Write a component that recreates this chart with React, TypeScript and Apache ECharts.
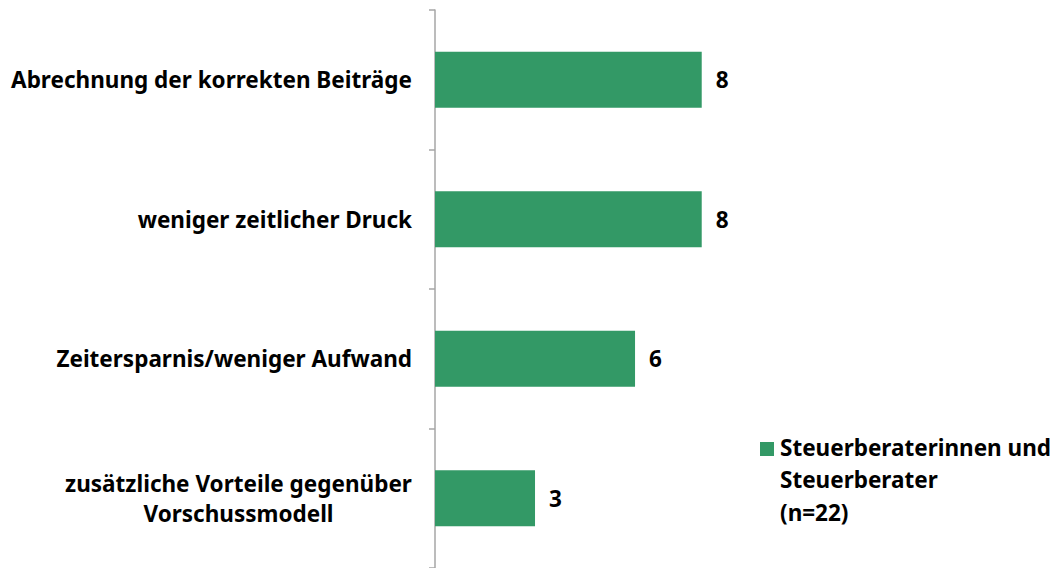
import React, { useEffect, useRef } from "react";
import * as echarts from "echarts";

const categories = [
  "Abrechnung der korrekten Beiträge",
  "weniger zeitlicher Druck",
  "Zeitersparnis/weniger Aufwand",
  "zusätzliche Vorteile gegenüber\nVorschussmodell",
];
const values = [8, 8, 6, 3];
const seriesName = "Steuerberaterinnen und\nSteuerberater\n(n=22)";

const FONT = "'Noto Sans', sans-serif";
const FONT_SIZE = 22.5;
const GREEN = "#339966";

function measure(text: string): number {
  const c = document.createElement("canvas");
  const ctx = c.getContext("2d");
  if (!ctx) return text.length * 12;
  ctx.font = `bold ${FONT_SIZE}px ${FONT}`;
  return ctx.measureText(text).width;
}

export default function App() {
  const ref = useRef<HTMLDivElement>(null);
  useEffect(() => {
    if (!ref.current) return;
    const chart = echarts.init(ref.current, null, { renderer: "svg" });
    const bandH = 140.67;
    chart.setOption({
      animation: false,
      grid: { left: 435, top: 10, width: 33.34 * 10, height: bandH * 4 },
      xAxis: {
        type: "value",
        min: 0,
        max: 10,
        show: false,
      },
      yAxis: {
        type: "category",
        data: categories,
        inverse: true,
        axisLine: { show: true, lineStyle: { color: "#a6a6a6", width: 1.5 } },
        axisTick: { show: true, length: 6, lineStyle: { color: "#a6a6a6", width: 1.5 } },
        splitLine: { show: false },
        axisLabel: {
          margin: 23,
          color: "#000",
          fontFamily: FONT,
          fontWeight: "bold",
          fontSize: FONT_SIZE,
          lineHeight: 30,
          align: "right",
          formatter: (v: string) =>
            v.includes("\n")
              ? v
                  .split("\n")
                  .map((l) => `{c|${l}}`)
                  .join("\n")
              : v,
          rich: {
            c: {
              width: Math.ceil(measure("zusätzliche Vorteile gegenüber")),
              align: "center",
              color: "#000",
              fontFamily: FONT,
              fontWeight: "bold",
              fontSize: FONT_SIZE,
              lineHeight: 30,
            },
          },
        },
      },
      series: [
        {
          name: seriesName,
          type: "bar",
          data: values,
          barWidth: 56,
          itemStyle: { color: GREEN },
          label: {
            show: true,
            position: "right",
            distance: 14,
            color: "#000",
            fontFamily: FONT,
            fontWeight: "bold",
            fontSize: FONT_SIZE,
          },
        },
      ],
      graphic: [
        {
          type: "rect",
          left: 760,
          top: 442,
          shape: { width: 14, height: 14 },
          style: { fill: GREEN },
        },
        {
          type: "text",
          left: 780,
          top: 431,
          style: {
            text: seriesName,
            fill: "#000",
            font: `bold ${FONT_SIZE}px ${FONT}`,
            lineHeight: 32.5,
          },
        },
      ],
    });
    return () => chart.dispose();
  }, []);
  return (
    <div
      ref={ref}
      style={{ position: "absolute", left: 0, top: 0, width: 1054, height: 568 }}
    />
  );
}
